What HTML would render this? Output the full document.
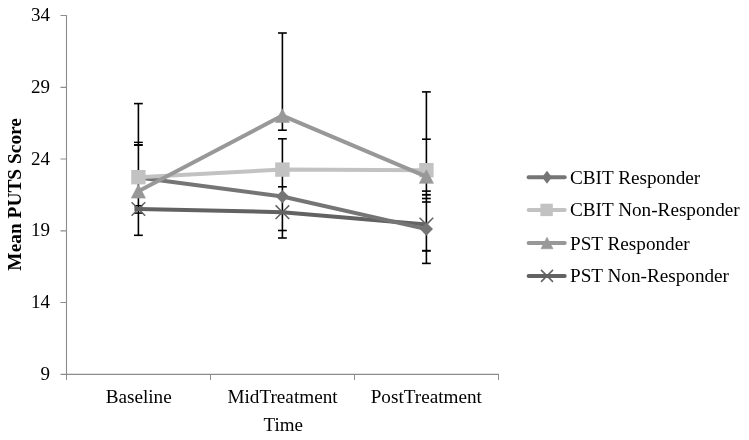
<!DOCTYPE html>
<html><head><meta charset="utf-8"><style>
html,body{margin:0;padding:0;background:#fff;overflow:hidden;}
svg{display:block;will-change:transform;font-family:"Liberation Serif",serif;font-size:19px;fill:#000;}
</style></head><body>
<svg width="749" height="440" viewBox="0 0 749 440">
<path d="M66.5 15.3V374.5M60.5 374.4H499" stroke="#8c8c8c" stroke-width="1.1" fill="none"/>
<path d="M66.5 374V380M210.5 374V380M354.5 374V380M498.5 374V380" stroke="#8c8c8c" stroke-width="1" fill="none"/>
<path d="M60.5 15.5H66.5M60.5 87.3H66.5M60.5 159.0H66.5M60.5 230.8H66.5M60.5 302.5H66.5" stroke="#8c8c8c" stroke-width="1.2" fill="none"/>
<text x="50" y="21.0" text-anchor="end">34</text>
<text x="50" y="92.8" text-anchor="end">29</text>
<text x="50" y="164.5" text-anchor="end">24</text>
<text x="50" y="236.3" text-anchor="end">19</text>
<text x="50" y="308.0" text-anchor="end">14</text>
<text x="50" y="379.8" text-anchor="end">9</text>
<text x="138.7" y="402.7" text-anchor="middle" style="font-size:19.2px">Baseline</text>
<text x="282.5" y="402.7" text-anchor="middle" style="font-size:19.2px">MidTreatment</text>
<text x="426.3" y="402.7" text-anchor="middle" style="font-size:19.2px">PostTreatment</text>
<text x="283.2" y="430.7" text-anchor="middle">Time</text>
<text transform="translate(21.1 194.35) rotate(-90)" text-anchor="middle" font-weight="bold" style="font-size:19.4px">Mean PUTS Score</text>
<path d="M138.4 103.6V235.3M282.4 33.0V130.2M282.4 138.8V238.0M426.4 91.9V263.4" stroke="#000" stroke-width="1.6" fill="none"/>
<path d="M134.0 103.6H142.8" stroke="#000" stroke-width="1.6"/>
<path d="M134.0 142.35H142.8" stroke="#000" stroke-width="1.4"/>
<path d="M134.0 145.0H142.8" stroke="#000" stroke-width="2.0"/>
<path d="M134.0 205.7H142.8" stroke="#000" stroke-width="1.5"/>
<path d="M134.0 213.1H142.8" stroke="#000" stroke-width="1.5"/>
<path d="M134.0 235.3H142.8" stroke="#000" stroke-width="1.6"/>
<path d="M278.0 33.0H286.79999999999995" stroke="#000" stroke-width="1.6"/>
<path d="M278.0 130.2H286.79999999999995" stroke="#000" stroke-width="1.6"/>
<path d="M278.0 138.8H286.79999999999995" stroke="#000" stroke-width="1.6"/>
<path d="M278.0 186.8H286.79999999999995" stroke="#000" stroke-width="1.6"/>
<path d="M278.0 230.5H286.79999999999995" stroke="#000" stroke-width="1.6"/>
<path d="M278.0 238.0H286.79999999999995" stroke="#000" stroke-width="1.6"/>
<path d="M422.0 91.9H430.79999999999995" stroke="#000" stroke-width="1.6"/>
<path d="M422.0 139.2H430.79999999999995" stroke="#000" stroke-width="1.6"/>
<path d="M422.0 191.1H430.79999999999995" stroke="#000" stroke-width="1.6"/>
<path d="M422.0 194.8H430.79999999999995" stroke="#000" stroke-width="1.8"/>
<path d="M422.0 198.5H430.79999999999995" stroke="#000" stroke-width="1.6"/>
<path d="M422.0 202.0H430.79999999999995" stroke="#000" stroke-width="1.6"/>
<path d="M422.0 250.8H430.79999999999995" stroke="#000" stroke-width="2.0"/>
<path d="M422.0 263.4H430.79999999999995" stroke="#000" stroke-width="1.6"/>
<polyline points="134.4,209.0 138.4,209.0 282.4,212.2 426.4,224.6" stroke="#626262" stroke-width="4.0" fill="none" stroke-linejoin="round"/>
<path d="M131.6 202.2L145.20000000000002 215.8M145.20000000000002 202.2L131.6 215.8" stroke="#626262" stroke-width="1.5" fill="none"/>
<path d="M275.59999999999997 205.39999999999998L289.2 219.0M289.2 205.39999999999998L275.59999999999997 219.0" stroke="#626262" stroke-width="1.5" fill="none"/>
<path d="M419.59999999999997 217.79999999999998L426.4 224.6L433.2 217.79999999999998" stroke="#626262" stroke-width="1.5" fill="none"/>
<polyline points="138.4,177.6 282.4,196.55 426.4,229.1" stroke="#757575" stroke-width="4.0" fill="none" stroke-linejoin="round"/>
<path d="M138.4 171.0L145.0 177.6L138.4 184.2L131.8 177.6Z" fill="#757575"/>
<path d="M282.4 189.95000000000002L289.0 196.55L282.4 203.15L275.79999999999995 196.55Z" fill="#757575"/>
<path d="M426.4 222.5L433.0 229.1L426.4 235.7L419.79999999999995 229.1Z" fill="#757575"/>
<polyline points="138.4,177.2 282.4,169.6 426.4,170.2" stroke="#c2c2c2" stroke-width="4.0" fill="none" stroke-linejoin="round"/>
<rect x="131.20000000000002" y="170.0" width="14.4" height="14.4" fill="#c2c2c2"/>
<rect x="275.2" y="162.4" width="14.4" height="14.4" fill="#c2c2c2"/>
<rect x="419.2" y="163.0" width="14.4" height="14.4" fill="#c2c2c2"/>
<polyline points="138.4,191.3 282.4,115.6 426.4,176.55" stroke="#989898" stroke-width="4.0" fill="none" stroke-linejoin="round"/>
<path d="M138.4 184.5L145.5 198.10000000000002L131.3 198.10000000000002Z" fill="#989898" stroke="#989898" stroke-width="0.6" stroke-linejoin="round"/>
<path d="M282.4 108.8L289.5 122.39999999999999L275.29999999999995 122.39999999999999Z" fill="#989898" stroke="#989898" stroke-width="0.6" stroke-linejoin="round"/>
<path d="M426.4 169.75L433.5 183.35000000000002L419.29999999999995 183.35000000000002Z" fill="#989898" stroke="#989898" stroke-width="0.6" stroke-linejoin="round"/>
<path d="M528.6 177.2H564.7" stroke="#757575" stroke-width="4.0" stroke-linecap="round" fill="none"/>
<path d="M547.0 170.7L551.9 177.2L547.0 183.7L542.1 177.2Z" fill="#757575"/>
<text x="570" y="183.7" style="font-size:19.2px">CBIT Responder</text>
<path d="M528.6 209.9H564.7" stroke="#c2c2c2" stroke-width="4.0" stroke-linecap="round" fill="none"/>
<rect x="540.4" y="203.70000000000002" width="12.4" height="12.4" fill="#c2c2c2"/>
<text x="570" y="216.4" style="font-size:19.2px">CBIT Non-Responder</text>
<path d="M528.6 243.0H564.7" stroke="#989898" stroke-width="4.0" stroke-linecap="round" fill="none"/>
<path d="M547.0 237.2L553.0 248.8L541.0 248.8Z" fill="#989898" stroke="#989898" stroke-width="0.6" stroke-linejoin="round"/>
<text x="570" y="249.5" style="font-size:19.2px">PST Responder</text>
<path d="M528.6 275.9H564.7" stroke="#626262" stroke-width="4.0" stroke-linecap="round" fill="none"/>
<path d="M541.0 269.9L553.0 281.9M553.0 269.9L541.0 281.9" stroke="#626262" stroke-width="1.5" fill="none"/>
<text x="570" y="282.4" style="font-size:19.2px">PST Non-Responder</text>
</svg>
</body></html>
